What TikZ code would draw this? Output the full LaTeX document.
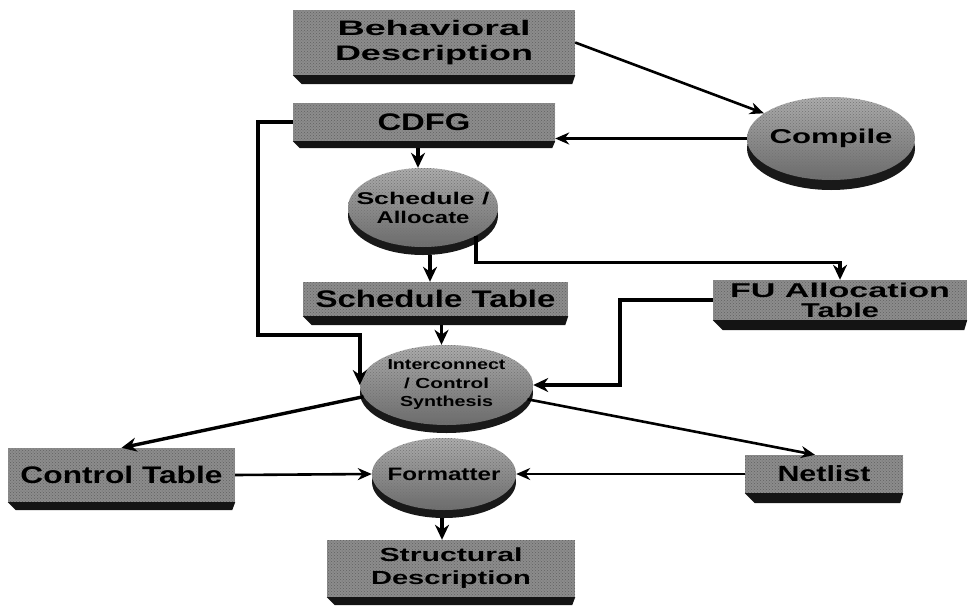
\documentclass[tikz,border=0pt]{standalone}
\usepackage{fontspec}
\usepackage{graphicx}
\newfontfamily\lbl{Liberation Sans}
\usetikzlibrary{arrows.meta,calc,shapes.geometric,patterns}
\newcommand{\sx}[2]{\resizebox{#1pt}{\height}{#2}}
\newcommand{\zx}[2]{\makebox[0pt]{\resizebox{#1pt}{\height}{#2}}}
\newcommand{\bev}[2]{\fill[bevel] (#1.south west) -- (#1.south east) -- ([xshift=-3pt,yshift=-#2]#1.south east) -- ([xshift=#2,yshift=-#2]#1.south west) -- cycle;}
\tikzset{
  boxnode/.style={rectangle, inner sep=0pt, fill=black!45,
    postaction={pattern=crosshatch dots, pattern color=black!62},
    align=center, font=\lbl\bfseries},
  disk/.style={ellipse, inner sep=0pt, top color=black!32, bottom color=black!58,
    align=center, font=\lbl\bfseries,
    preaction={fill=black!90, transform canvas={yshift=-#1}},
    postaction={pattern=crosshatch dots, pattern color=black!55}},
  disk/.default=8pt,
  bevel/.style={fill=black!92},
  arr/.style={line width=3.4pt, -{Stealth[length=15pt,width=14pt]}},
  thinarr/.style={line width=2.6pt, -{Stealth[length=14pt,width=12pt]}},
}
\begin{document}
\begin{tikzpicture}[x=1pt,y=-1pt]
\useasboundingbox (0,0) rectangle (968,605);

% boxes
\node[boxnode, minimum width=282pt, minimum height=65pt,
  font=\lbl\bfseries\fontsize{21}{25}\selectfont] (beh) at (434,42.5)
  {\sx{193}{Behavioral}\\\sx{198}{Description}};
\node[boxnode, minimum width=262pt, minimum height=38pt,
  font=\lbl\bfseries\fontsize{24}{26}\selectfont] (cdfg) at (424,122) {\sx{93}{CDFG}};
\node[boxnode, minimum width=265pt, minimum height=34pt,
  font=\lbl\bfseries\fontsize{24}{26}\selectfont] (st) at (435.5,299) {\sx{240}{Schedule Table}};
\node[boxnode, minimum width=254pt, minimum height=40pt,
  font=\lbl\bfseries\fontsize{20}{20}\selectfont] (fu) at (840,300)
  {\sx{220}{FU Allocation}\\\sx{78}{Table}};
\node[boxnode, minimum width=227pt, minimum height=54pt,
  font=\lbl\bfseries\fontsize{24}{26}\selectfont] (ctrl) at (121.5,475) {\sx{202}{Control Table}};
\node[boxnode, minimum width=158pt, minimum height=38pt,
  font=\lbl\bfseries\fontsize{22}{24}\selectfont] (net) at (824,474) {\sx{93}{Netlist}};
\node[boxnode, minimum width=248pt, minimum height=57pt,
  font=\lbl\bfseries\fontsize{19}{23}\selectfont] (struct) at (451,568.5)
  {\sx{143}{Structural}\\\sx{160}{Description}};

\bev{beh}{9pt}
\bev{cdfg}{7pt}
\bev{st}{9pt}
\bev{fu}{10pt}
\bev{ctrl}{8pt}
\bev{net}{10pt}
\bev{struct}{8pt}

% disks
\node[disk=10pt, minimum width=168pt, minimum height=83pt,
  font=\lbl\bfseries\fontsize{20}{22}\selectfont] (comp) at (831,138.5) {\zx{123}{Compile}};
\node[disk, minimum width=150pt, minimum height=79pt,
  font=\lbl\bfseries\fontsize{17}{19}\selectfont] (sa) at (423,207.5)
  {\zx{133}{Schedule /}\\\zx{93}{Allocate}};
\node[disk, minimum width=173pt, minimum height=80pt,
  font=\lbl\bfseries\fontsize{14.5}{18.5}\selectfont] (inter) at (446.5,385)
  {\zx{118}{Interconnect}\\\zx{85}{/ Control}\\\zx{93}{Synthesis}};
\node[disk, minimum width=144pt, minimum height=72pt,
  font=\lbl\bfseries\fontsize{18}{20}\selectfont] (fmt) at (444,474) {\zx{113}{Formatter}};

% connectors
\draw[thinarr] (beh.east) -- (comp);
\draw[thinarr] (comp.west) -- (cdfg.east |- comp.west);
\draw[arr] ([xshift=-6pt,yshift=-7pt]cdfg.south) -- ([xshift=-5pt]sa.north);
\draw[arr] ([xshift=7pt,yshift=-8pt]sa.south) -- ([xshift=-5.5pt]st.north);
\draw[arr] (sa.south east) -- ++(0,27) -| (fu.north);
\draw[arr] (cdfg.west) -- ++(-35,0) |- ($(inter.west)+(0,-50)$) -- (inter.west);
\draw[arr] ([xshift=6pt,yshift=-9pt]st.south) -- ([xshift=-5pt]inter.north);
\draw[arr] (fu.west) -- ++(-93,0) |- (inter.east);
\draw[arr] (inter.188) -- (ctrl.north);
\draw[thinarr] (ctrl.east) -- (fmt.west);
\draw[thinarr] (net.west) -- (fmt.east);
\draw[thinarr] (inter.-10) -- ([xshift=-9pt]net.north);
\draw[arr] ([xshift=-2pt,yshift=-8pt]fmt.south) -- ([xshift=-9pt]struct.north);
\end{tikzpicture}
\end{document}
